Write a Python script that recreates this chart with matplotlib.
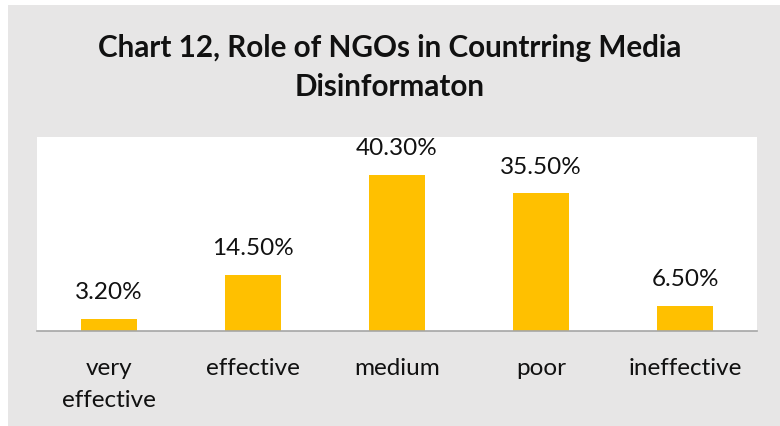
import matplotlib.pyplot as plt
from matplotlib.patches import Rectangle

categories = ["very\neffective", "effective", "medium", "poor", "ineffective"]
values = [3.2, 14.5, 40.3, 35.5, 6.5]
value_labels = ["3.20%", "14.50%", "40.30%", "35.50%", "6.50%"]

plt.rcParams['font.family'] = ['Lato', 'DejaVu Sans']

W, H = 780, 427
fig = plt.figure(figsize=(W / 100, H / 100), dpi=100)
fig.patch.set_facecolor("white")
# grey chart frame, offset like the screenshot
fig.patches.append(Rectangle((8 / W, 0), 1 - 8 / W, 1 - 6 / H, transform=fig.transFigure,
                             facecolor="#e7e6e6", edgecolor="none", zorder=-1))

ax = fig.add_axes([37 / W, 1 - 332 / H, 720 / W, 194 / H])
ax.set_facecolor("white")
x = range(len(categories))
ax.bar(x, values, width=0.39, color="#ffc000")
ax.set_xlim(-0.5, len(categories) - 0.5)
ax.set_ylim(0, 50)

for xi, v, lab in zip(x, values, value_labels):
    ax.annotate(lab, (xi, v), xytext=(0, 12), textcoords="offset points",
                ha="center", va="bottom", fontsize=17.5, color="#111111")

ax.set_xticks(list(x))
ax.set_xticklabels(categories, fontsize=17.5, color="#111111", linespacing=1.6)
ax.tick_params(axis="x", length=0, pad=19)
ax.set_yticks([])
for s in ["top", "left", "right"]:
    ax.spines[s].set_visible(False)
ax.spines["bottom"].set_color("#a6a6a6")
ax.spines["bottom"].set_linewidth(1.2)

fig.text(0.5, 1 - 48 / H, "Chart 12, Role of NGOs in Countrring Media", ha="center", va="center",
         fontsize=21.3, fontweight="bold", color="#111111")
fig.text(0.5, 1 - 87 / H, "Disinformaton", ha="center", va="center",
         fontsize=21.3, fontweight="bold", color="#111111")

fig.savefig("out.png", dpi=100)
